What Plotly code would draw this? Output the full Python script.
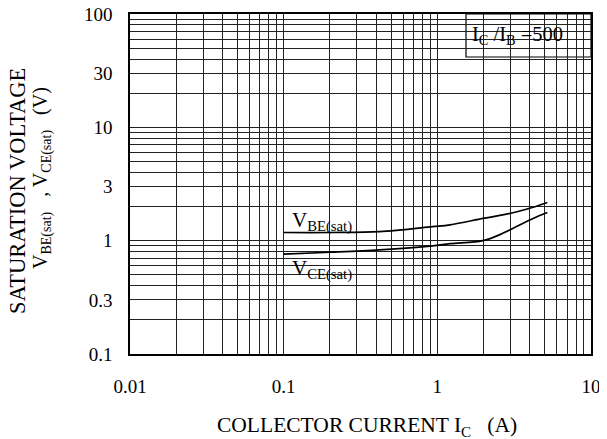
import plotly.graph_objects as go

# ---- data ----
ic = [0.1, 0.2, 0.42, 0.93, 1.21, 1.98, 2.55, 3.3, 4.2, 5.2]
vbe_sat = [1.18, 1.18, 1.2, 1.33, 1.38, 1.57, 1.67, 1.8, 1.97, 2.17]
vce_sat = [0.76, 0.79, 0.83, 0.9, 0.94, 1.0, 1.13, 1.34, 1.57, 1.77]

x_tick_labels = {0.01: "0.01", 0.1: "0.1", 1: "1", 10: "10"}
y_tick_labels = {0.1: "0.1", 0.3: "0.3", 1: "1", 3: "3", 10: "10", 30: "30", 100: "100"}
x_decades = [0.01, 0.1, 1]
y_decades = [0.1, 1, 10]
digits = [1, 2, 3, 4, 5, 6, 7, 8, 9]

def grid_vals(decades, last):
    vals = []
    for d in decades:
        for k in digits:
            vals.append(round(d * k, 6))
    vals.append(last)
    return vals

xvals = grid_vals(x_decades, 10)
yvals = grid_vals(y_decades, 100)
xtext = [x_tick_labels.get(v, "") for v in xvals]
ytext = [y_tick_labels.get(v, "") for v in yvals]

FONT = "Liberation Serif"
OFF = 8  # page body margin
W, H = 607 - OFF, 439 - OFF
# plot area in window pixels: x 130..591, y 14..354
L, R, T, B = 130 - OFF, 607 - 591, 14 - OFF, 439 - 354
PW, PH = W - L - R, H - T - B

def px(x):
    return (x - OFF - L) / PW

def py(y):
    return (H - B - (y - OFF)) / PH

fig = go.Figure()
fig.add_trace(go.Scatter(x=ic, y=vbe_sat, mode="lines", line=dict(color="black", width=1.7, shape="spline"),
                         name="VBE(sat)", showlegend=False))
fig.add_trace(go.Scatter(x=ic, y=vce_sat, mode="lines", line=dict(color="black", width=1.7, shape="spline"),
                         name="VCE(sat)", showlegend=False))

axis_common = dict(
    type="log",
    showgrid=True, gridcolor="#222", gridwidth=1,
    showline=True, linecolor="black", linewidth=1.5, mirror=True,
    ticks="", zeroline=False, automargin=False, ticklabeloverflow="allow",
    tickfont=dict(family=FONT, size=19, color="black"),
    tickmode="array",
)

fig.update_xaxes(range=[-2, 1], tickvals=xvals, ticktext=xtext, ticklabelstandoff=14, **axis_common)
fig.update_yaxes(range=[-1, 2], tickvals=yvals, ticktext=ytext, ticklabelstandoff=12, **axis_common)

shapes = [
    # white label backgrounds (cover grid, under curves)
    dict(type="rect", xref="paper", yref="paper", x0=px(284), x1=px(378), y0=py(233), y1=py(210),
         fillcolor="white", line=dict(width=0), layer="between"),
    dict(type="rect", xref="paper", yref="paper", x0=px(284), x1=px(379), y0=py(287), y1=py(255),
         fillcolor="white", line=dict(width=0), layer="between"),
    dict(type="rect", xref="paper", yref="paper", x0=px(466), x1=1, y0=py(57), y1=1,
         fillcolor="white", line=dict(color="black", width=1.2), layer="between"),
]

def f(size):
    return dict(family=FONT, size=size, color="black")

annotations = [
    dict(text="V<sub>BE(sat)</sub>", xref="paper", yref="paper", x=px(290), y=py(221),
         xanchor="left", yanchor="middle", showarrow=False, font=f(21)),
    dict(text="V<sub>CE(sat)</sub>", xref="paper", yref="paper", x=px(290), y=py(269),
         xanchor="left", yanchor="middle", showarrow=False, font=f(21)),
    dict(text="I<sub>C</sub> /I<sub>B</sub> =500", xref="paper", yref="paper", x=px(470), y=py(36),
         xanchor="left", yanchor="middle", showarrow=False, font=f(20.5)),
    dict(text="COLLECTOR CURRENT I<sub>C</sub>\u00a0\u00a0 (A)", xref="paper", yref="paper",
         x=px(367), y=py(427), xanchor="center", yanchor="middle", showarrow=False, font=f(21.5)),
    dict(text="SATURATION VOLTAGE", xref="paper", yref="paper", x=px(18), y=py(191),
         xanchor="center", yanchor="middle", textangle=-90, showarrow=False, font=f(22.5)),
    dict(text="V<sub>BE(sat)</sub>\u00a0\u00a0 , V<sub>CE(sat)</sub>\u00a0\u00a0 (V)", xref="paper", yref="paper",
         x=px(42), y=py(178), xanchor="center", yanchor="middle", textangle=-90, showarrow=False, font=f(20)),
]

fig.update_layout(
    width=W, height=H,
    margin=dict(l=L, r=R, t=T, b=B, autoexpand=False),
    paper_bgcolor="white", plot_bgcolor="white",
    shapes=shapes, annotations=annotations,
    font=dict(family=FONT, color="black"),
)

fig.write_html("out.html")
